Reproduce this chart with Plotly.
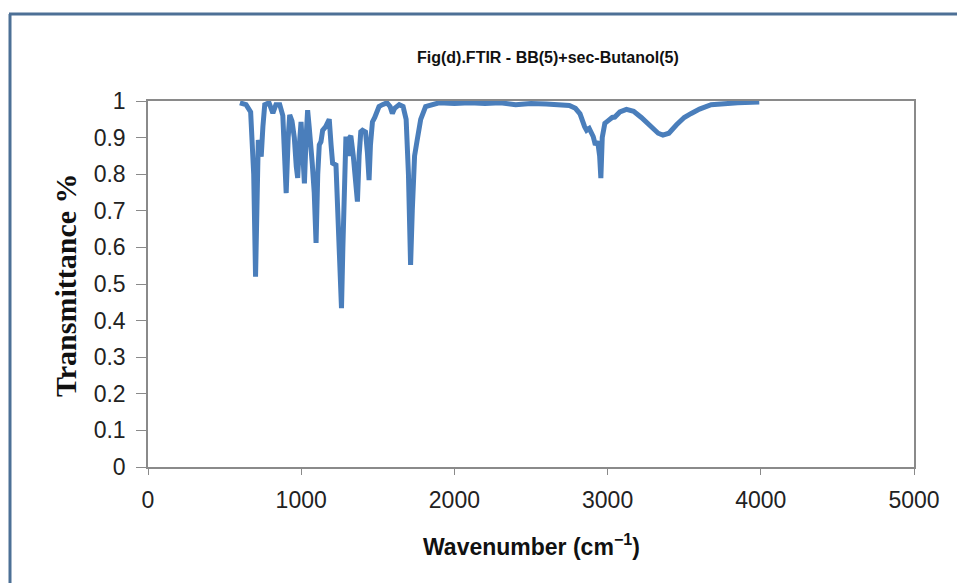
import plotly.graph_objects as go

wavenumber = [600, 640, 670, 690, 702, 712, 720, 730, 739, 750, 762, 790, 815, 835, 860, 880,
              902, 915, 925, 940, 955, 968, 977, 988, 999, 1010, 1021, 1032, 1042, 1052, 1064,
              1072, 1085, 1097, 1108, 1118, 1129, 1140, 1160, 1183, 1195, 1205, 1227, 1240,
              1255, 1263, 1272, 1283, 1292, 1300, 1308, 1316, 1324, 1340, 1355, 1367, 1378,
              1389, 1400, 1420, 1432, 1443, 1452, 1465, 1480, 1508, 1530, 1560, 1580, 1595,
              1610, 1640, 1665, 1685, 1700, 1714, 1725, 1740, 1757, 1780, 1812, 1850, 1900,
              2000, 2100, 2200, 2300, 2400, 2500, 2600, 2700, 2750, 2790, 2820, 2850, 2863,
              2880, 2895, 2906, 2920, 2935, 2948, 2956, 2965, 2982, 3000, 3030, 3047, 3080,
              3123, 3170, 3220, 3280, 3330, 3361, 3400, 3450, 3500, 3546, 3600, 3676, 3750,
              3850, 3990]
transmittance = [0.995, 0.99, 0.97, 0.80, 0.52, 0.70, 0.893, 0.88, 0.848, 0.93, 0.99, 0.995,
                 0.967, 0.99, 0.99, 0.96, 0.748, 0.90, 0.962, 0.945, 0.90, 0.82, 0.79, 0.88,
                 0.943, 0.86, 0.775, 0.90, 0.975, 0.93, 0.885, 0.83, 0.75, 0.612, 0.80, 0.88,
                 0.889, 0.92, 0.93, 0.95, 0.88, 0.83, 0.825, 0.70, 0.50, 0.434, 0.60, 0.85,
                 0.903, 0.88, 0.85, 0.90, 0.905, 0.85, 0.76, 0.725, 0.85, 0.916, 0.92, 0.915,
                 0.86, 0.784, 0.88, 0.943, 0.955, 0.985, 0.99, 0.995, 0.985, 0.966, 0.98, 0.99,
                 0.985, 0.95, 0.80, 0.552, 0.70, 0.85, 0.893, 0.95, 0.985, 0.99, 0.995, 0.993,
                 0.995, 0.993, 0.995, 0.99, 0.993, 0.992, 0.99, 0.988, 0.98, 0.965, 0.93, 0.92,
                 0.925, 0.91, 0.903, 0.88, 0.89, 0.85, 0.789, 0.90, 0.939, 0.945, 0.955, 0.956,
                 0.97, 0.977, 0.972, 0.955, 0.93, 0.912, 0.907, 0.912, 0.935, 0.955, 0.966,
                 0.978, 0.99, 0.993, 0.995, 0.997]

x_ticks = [0, 1000, 2000, 3000, 4000, 5000]
y_ticks = [0, 0.1, 0.2, 0.3, 0.4, 0.5, 0.6, 0.7, 0.8, 0.9, 1]
y_tick_labels = ["0", "0.1", "0.2", "0.3", "0.4", "0.5", "0.6", "0.7", "0.8", "0.9", "1"]

title_text = "Fig(d).FTIR - BB(5)+sec-Butanol(5)"
x_title = "Wavenumber (cm<sup>\u22121</sup>)"
y_title = "Transmittance %"

W, H = 957, 583
L, R, T, B = 148, 914, 101, 467

def px(xp):
    return (xp - L) / (R - L)

def py(yp):
    return (B - yp) / (B - T)

fig = go.Figure()
fig.add_trace(go.Scatter(x=wavenumber, y=transmittance, mode="lines",
                         line=dict(color="#4a7ebb", width=5), showlegend=False))

axis_font = dict(family="Liberation Sans, Arial, sans-serif", size=23, color="#222222")
fig.update_xaxes(range=[0, 5000], tickvals=x_ticks, showgrid=False, zeroline=False,
                 showline=True, linecolor="#8a8a8a", linewidth=1.5, mirror=True,
                 ticks="outside", ticklen=6, tickcolor="#8a8a8a", tickfont=axis_font,
                 ticklabelstandoff=6)
fig.update_yaxes(range=[0, 1], tickvals=y_ticks, ticktext=y_tick_labels, showgrid=False,
                 zeroline=False, showline=True, linecolor="#8a8a8a", linewidth=1.5,
                 mirror=True, ticks="outside", ticklen=10, tickcolor="#8a8a8a",
                 tickfont=axis_font, ticklabelstandoff=6)

frame_col = "#4d7096"
fig.add_shape(type="line", xref="paper", yref="paper", x0=px(10), x1=px(10),
              y0=py(600), y1=py(14), line=dict(color=frame_col, width=3))
fig.add_shape(type="line", xref="paper", yref="paper", x0=px(9), x1=px(970),
              y0=py(14), y1=py(14), line=dict(color=frame_col, width=3))

fig.add_annotation(text="<b>" + title_text + "</b>", xref="paper", yref="paper",
                   x=px(548), y=py(57), showarrow=False, xanchor="center", yanchor="middle",
                   font=dict(family="Liberation Sans Narrow, Arial Narrow, sans-serif",
                             size=16, color="#111111"))
fig.add_annotation(text="<b>" + x_title + "</b>", xref="paper", yref="paper",
                   x=px(531), y=py(545), showarrow=False, xanchor="center", yanchor="middle",
                   font=dict(family="Liberation Sans Narrow, Arial Narrow, sans-serif",
                             size=23, color="#111111"))
fig.add_annotation(text="<b>" + y_title + "</b>", xref="paper", yref="paper",
                   x=px(65), y=py(285), showarrow=False, textangle=-90,
                   xanchor="center", yanchor="middle",
                   font=dict(family="Liberation Serif, Times New Roman, serif",
                             size=30, color="#111111"))

fig.update_layout(width=W, height=H, margin=dict(l=L, r=W - R, t=T, b=H - B),
                  paper_bgcolor="white", plot_bgcolor="white")

fig.write_html("out.html")
